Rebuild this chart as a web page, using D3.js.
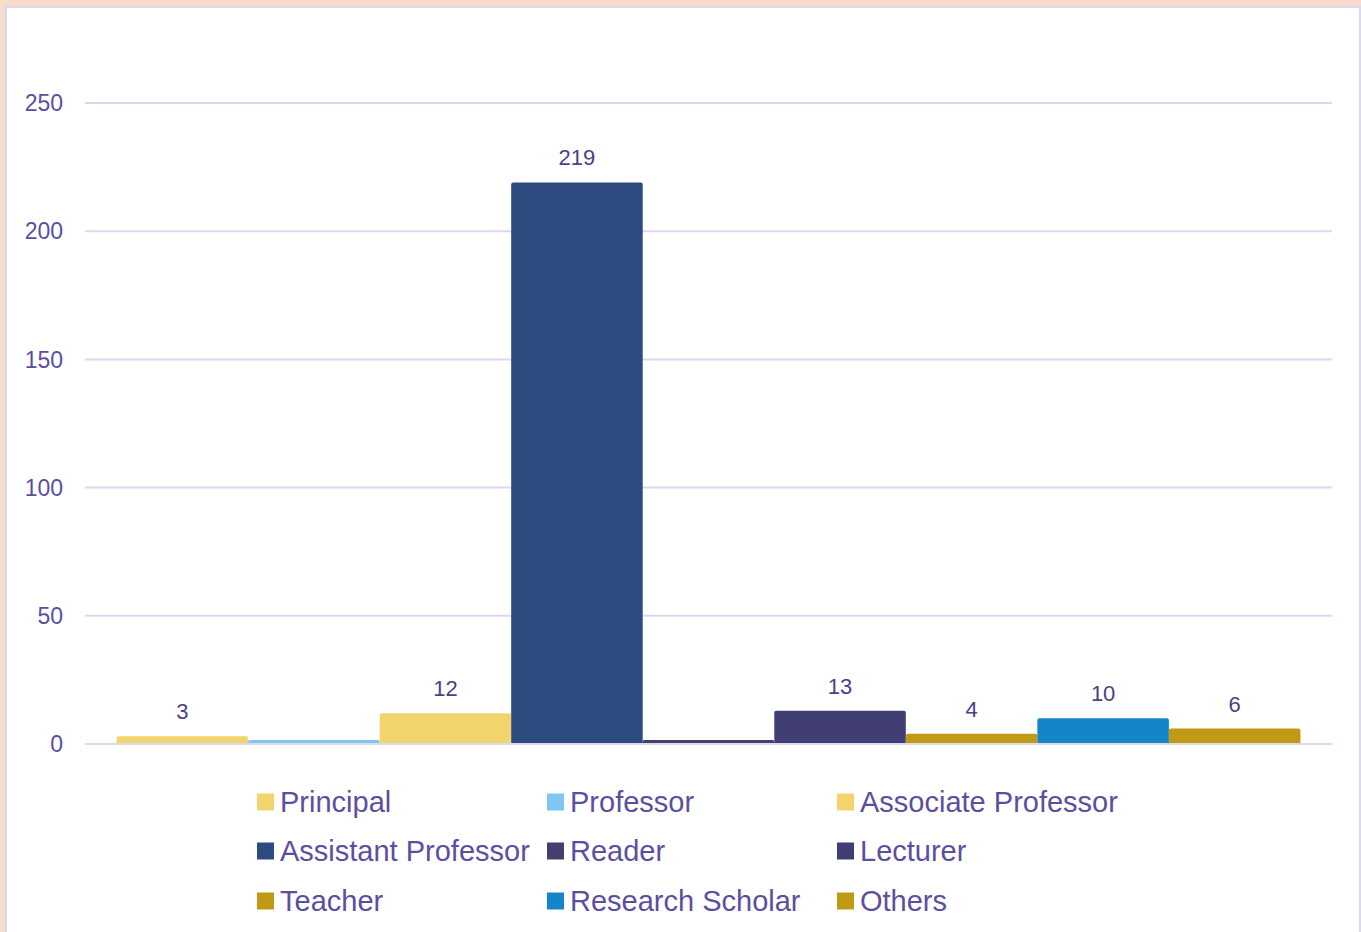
<!DOCTYPE html>
<html>
<head>
<meta charset="utf-8">
<script src="https://cdn.jsdelivr.net/npm/d3@7"></script>
<style>
  body { margin: 0; background: #f5dccd; }
  svg { display: block; font-family: "Liberation Sans", Arial, sans-serif; }
</style>
</head>
<body>
<div id="chart"></div>
<script>
// data
const categories = ["Principal", "Professor", "Associate Professor", "Assistant Professor",
                    "Reader", "Lecturer", "Teacher", "Research Scholar", "Others"];
const values = [3, 1, 12, 219, 1, 13, 4, 10, 6];
const valueLabels = ["3", "", "12", "219", "", "13", "4", "10", "6"];
const colors = ["#f2d46c", "#7fc6f1", "#f2d46c", "#2e4b80", "#473d6f",
                "#403e73", "#c09a14", "#1585ca", "#c09a14"];
const yTicks = [0, 50, 100, 150, 200, 250];

const W = 1361, H = 932;
const svg = d3.select("#chart")
    .append("svg")
    .attr("width", W)
    .attr("height", H);

// white panel with lavender border
svg.append("rect")
    .attr("x", 6)
    .attr("y", 7)
    .attr("width", 1354)
    .attr("height", 940)
    .attr("fill", "#fff")
    .attr("stroke", "#dcd8ee")
    .attr("stroke-width", 2);

const left = 85, right = 1332;
const y = d3.scaleLinear()
    .domain([0, 250])
    .range([744, 103]);

const x = d3.scaleBand()
    .domain(categories)
    .range([left, right])
    .paddingInner(0)
    .paddingOuter(0.24);

// gridlines + tick labels
const axis = svg.append("g");
axis.selectAll("line")
    .data(yTicks)
    .enter()
    .append("line")
    .attr("x1", left)
    .attr("x2", right)
    .attr("y1", d => y(d))
    .attr("y2", d => y(d))
    .attr("stroke", "#dcd8ee")
    .attr("stroke-width", 2);

axis.selectAll("text")
    .data(yTicks)
    .enter()
    .append("text")
    .attr("x", 63)
    .attr("y", d => y(d))
    .attr("dy", "0.36em")
    .attr("text-anchor", "end")
    .style("font-size", "23px")
    .style("fill", "#5a4f9f")
    .text(d => d);

// bars
const data = categories.map((c, i) => ({ name: c, value: values[i], label: valueLabels[i], color: colors[i] }));

svg.selectAll(".bar")
    .data(data)
    .enter()
    .append("path")
    .attr("class", "bar")
    .attr("fill", d => d.color)
    .attr("d", d => {
        const x0 = x(d.name), x1 = x0 + x.bandwidth();
        const y0 = y(0) - 1, y1 = Math.min(y(d.value), y0 - 3);
        const r = Math.min(2, (y0 - y1) / 2);
        return `M${x0},${y0}V${y1 + r}Q${x0},${y1} ${x0 + r},${y1}H${x1 - r}Q${x1},${y1} ${x1},${y1 + r}V${y0}Z`;
    });

// value labels
svg.selectAll(".label")
    .data(data.filter(d => d.label !== ""))
    .enter()
    .append("text")
    .attr("class", "label")
    .attr("x", d => x(d.name) + x.bandwidth() / 2)
    .attr("y", d => y(d.value) - 17)
    .attr("text-anchor", "middle")
    .style("font-size", "22px")
    .style("fill", "#4a4281")
    .text(d => d.label);

// legend, 3 columns
const legend = svg.append("g");
const colX = [257, 547, 837];
const rowY = [802, 851, 901];
const item = legend.selectAll(".item")
    .data(data)
    .enter()
    .append("g")
    .attr("class", "item")
    .attr("transform", (d, i) => `translate(${colX[i % 3]},${rowY[Math.floor(i / 3)]})`);

item.append("rect")
    .attr("x", 0)
    .attr("y", -8.5)
    .attr("width", 17)
    .attr("height", 17)
    .attr("fill", d => d.color);

item.append("text")
    .attr("x", 23)
    .attr("y", 0)
    .attr("dy", "0.36em")
    .style("font-size", "29px")
    .style("fill", "#5b4fa1")
    .text(d => d.name);
</script>
</body>
</html>
